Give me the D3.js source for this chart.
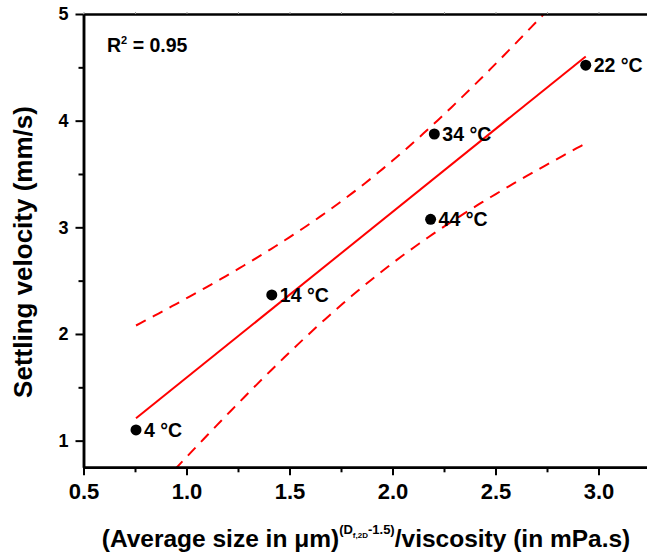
<!DOCTYPE html>
<html>
<head>
<meta charset="utf-8">
<script src="https://cdn.jsdelivr.net/npm/d3@7"></script>
<style>
  body { margin: 0; background: #fff; }
  text { font-family: Arial, "Liberation Sans", sans-serif; font-weight: bold; fill: #000; }
</style>
</head>
<body>
<svg id="chart" width="647" height="554"></svg>
<script>
// Measured settling velocities at five temperatures
const temperatureLabels = ["4 °C", "14 °C", "34 °C", "44 °C", "22 °C"];
const sizeOverViscosity = [0.755, 1.414, 2.203, 2.185, 2.938];
const settlingVelocity  = [1.10, 2.366, 3.875, 3.075, 4.52];

const xMajorTicks = [0.5, 1.0, 1.5, 2.0, 2.5, 3.0];
const xMinorTicks = [0.75, 1.25, 1.75, 2.25, 2.75, 3.25];
const yMajorTicks = [1, 2, 3, 4, 5];
const yMinorTicks = [1.5, 2.5, 3.5, 4.5];
const rSquaredLabel = "0.95";
const tCritical95 = 3.182; // Student t, 3 degrees of freedom

const svg = d3.select("#chart");
const W = 647, H = 554;
const plotLeft = 83.5, plotTop = 14, plotBottom = 467.3;

const x = d3.scaleLinear().domain([0.5, 3.25]).range([plotLeft, plotLeft + 566.5]);
const y = d3.scaleLinear().domain([0.75, 5]).range([plotBottom, plotTop]);

// Linear least-squares fit with 95% confidence band of the mean
const n = sizeOverViscosity.length;
const mx = d3.mean(sizeOverViscosity), my = d3.mean(settlingVelocity);
let sxx = 0, sxy = 0;
for (let i = 0; i < n; i++) {
  sxx += (sizeOverViscosity[i] - mx) ** 2;
  sxy += (sizeOverViscosity[i] - mx) * (settlingVelocity[i] - my);
}
const slope = sxy / sxx, intercept = my - slope * mx;
let sse = 0;
for (let i = 0; i < n; i++) {
  sse += (settlingVelocity[i] - (intercept + slope * sizeOverViscosity[i])) ** 2;
}
const s = Math.sqrt(sse / (n - 2));
const xMin = d3.min(sizeOverViscosity), xMax = d3.max(sizeOverViscosity);
const bandXs = d3.range(0, 101).map(i => xMin + (xMax - xMin) * i / 100);
const halfWidth = xv => tCritical95 * s * Math.sqrt(1 / n + (xv - mx) ** 2 / sxx);
const fitAt = xv => intercept + slope * xv;

// clip for fit curves
svg.append("defs").append("clipPath").attr("id", "plotClip")
  .append("rect").attr("x", plotLeft).attr("y", plotTop)
  .attr("width", W - plotLeft).attr("height", plotBottom - plotTop);

const plot = svg.append("g").attr("clip-path", "url(#plotClip)");
const line = d3.line().x(d => x(d[0])).y(d => y(d[1]));

plot.append("path")
  .datum([[xMin, fitAt(xMin)], [xMax, fitAt(xMax)]])
  .attr("d", line).attr("fill", "none").attr("stroke", "#ff0000").attr("stroke-width", 2);

plot.append("path")
  .datum(bandXs.map(v => [v, fitAt(v) + halfWidth(v)]))
  .attr("d", line).attr("fill", "none").attr("stroke", "#ff0000")
  .attr("stroke-width", 2).attr("stroke-dasharray", "11,8");

plot.append("path")
  .datum(bandXs.map(v => [v, fitAt(v) - halfWidth(v)]))
  .attr("d", line).attr("fill", "none").attr("stroke", "#ff0000")
  .attr("stroke-width", 2).attr("stroke-dasharray", "11,8");

// Axes
function styleAxis(g, width) {
  g.select(".domain").attr("stroke", "#000").attr("stroke-width", width);
  g.selectAll(".tick line").attr("stroke", "#000").attr("stroke-width", 2);
}

const xAxis = svg.append("g").attr("transform", `translate(0,${plotBottom})`)
  .call(d3.axisBottom(x).tickValues(xMajorTicks).tickSize(8).tickPadding(8)
    .tickFormat(d3.format(".1f")).tickSizeOuter(0));
styleAxis(xAxis, 2.5);
xAxis.selectAll(".tick text").attr("font-size", 22);

const xMinor = svg.append("g").attr("transform", `translate(0,${plotBottom})`)
  .call(d3.axisBottom(x).tickValues(xMinorTicks).tickSize(5).tickFormat("").tickSizeOuter(0));
styleAxis(xMinor, 2.5);

const yAxis = svg.append("g").attr("transform", `translate(${plotLeft},0)`)
  .call(d3.axisLeft(y).tickValues(yMajorTicks).tickSize(8).tickPadding(7)
    .tickFormat(d3.format("d")).tickSizeOuter(0));
styleAxis(yAxis, 2.5);
yAxis.selectAll(".tick text").attr("font-size", 18);

const yMinor = svg.append("g").attr("transform", `translate(${plotLeft},0)`)
  .call(d3.axisLeft(y).tickValues(yMinorTicks).tickSize(5).tickFormat("").tickSizeOuter(0));
styleAxis(yMinor, 2.5);

// Top frame line with faint ticks
const topAxis = svg.append("g").attr("transform", `translate(0,${plotTop})`)
  .call(d3.axisTop(x).tickValues(xMajorTicks.concat(xMinorTicks)).tickSize(2).tickFormat("").tickSizeOuter(0));
topAxis.select(".domain").attr("stroke", "#000").attr("stroke-width", 2.5);
topAxis.selectAll(".tick line").attr("stroke", "#999").attr("stroke-width", 1);

// Points and labels
const pts = svg.append("g");
temperatureLabels.forEach((lab, i) => {
  const cx = x(sizeOverViscosity[i]), cy = y(settlingVelocity[i]);
  pts.append("circle").attr("cx", cx).attr("cy", cy).attr("r", 5.5).attr("fill", "#000");
  pts.append("text").attr("x", cx + 8).attr("y", cy + 7).attr("font-size", 19.5).text(lab);
});

// R² annotation
const r2 = svg.append("text").attr("x", 107).attr("y", 52).attr("font-size", 19.5);
r2.append("tspan").text("R");
r2.append("tspan").attr("font-size", 11).attr("dy", -8).text("2");
r2.append("tspan").attr("dy", 8).text(" = " + rSquaredLabel);

// Axis titles
svg.append("text")
  .attr("transform", `translate(32,252) rotate(-90)`)
  .attr("text-anchor", "middle").attr("font-size", 26)
  .text("Settling velocity (mm/s)");

const xt = svg.append("text").attr("x", 366).attr("y", 547)
  .attr("text-anchor", "middle").attr("font-size", 24.5);
xt.append("tspan").text("(Average size in μm)");
xt.append("tspan").attr("font-size", 13).attr("dy", -13).text("(D");
xt.append("tspan").attr("font-size", 8).attr("dy", 4).text("f,2D");
xt.append("tspan").attr("font-size", 13).attr("dy", -4).text("-1.5)");
xt.append("tspan").attr("dy", 13).text("/viscosity (in mPa.s)");
</script>
</body>
</html>
